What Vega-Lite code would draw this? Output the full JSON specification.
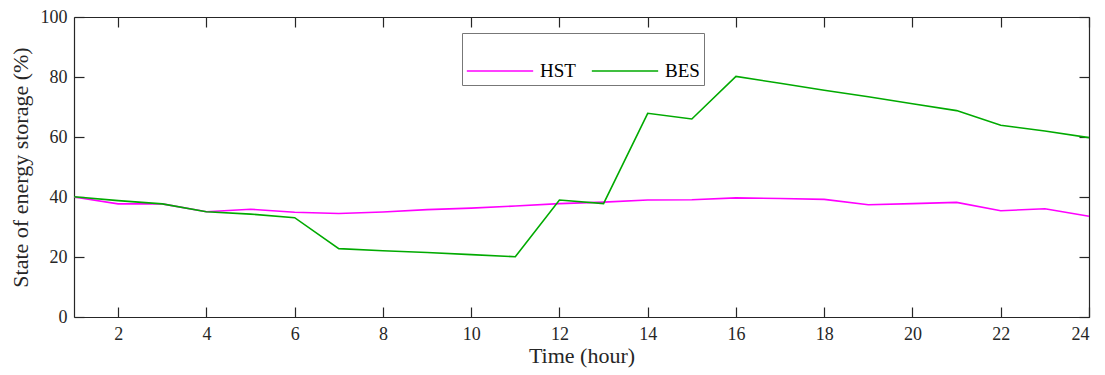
{
  "$schema": "https://vega.github.io/schema/vega-lite/v6.json",
  "autosize": "none",
  "width": 1015,
  "height": 300,
  "padding": {"left": 74, "top": 17, "right": 16, "bottom": 58},
  "background": "white",
  "config": {
    "view": {"stroke": null},
    "font": "Liberation Serif",
    "axis": {
      "grid": false,
      "domainColor": "#262626",
      "domainWidth": 1.2,
      "tickColor": "#262626",
      "tickWidth": 1.2,
      "tickSize": -10,
      "labelFont": "Liberation Serif",
      "labelFontSize": 18,
      "labelColor": "#262626",
      "titleFont": "Liberation Serif",
      "titleFontSize": 22,
      "titleFontWeight": "normal",
      "titleColor": "#262626"
    }
  },
  "data": {
    "values": [
      {"hour": 1, "series": "HST", "soc": 40.0},
      {"hour": 2, "series": "HST", "soc": 37.7},
      {"hour": 3, "series": "HST", "soc": 37.7},
      {"hour": 4, "series": "HST", "soc": 35.1},
      {"hour": 5, "series": "HST", "soc": 35.9},
      {"hour": 6, "series": "HST", "soc": 34.9},
      {"hour": 7, "series": "HST", "soc": 34.5},
      {"hour": 8, "series": "HST", "soc": 35.0},
      {"hour": 9, "series": "HST", "soc": 35.8},
      {"hour": 10, "series": "HST", "soc": 36.3},
      {"hour": 11, "series": "HST", "soc": 37.0},
      {"hour": 12, "series": "HST", "soc": 37.8},
      {"hour": 13, "series": "HST", "soc": 38.3},
      {"hour": 14, "series": "HST", "soc": 39.0},
      {"hour": 15, "series": "HST", "soc": 39.1},
      {"hour": 16, "series": "HST", "soc": 39.7},
      {"hour": 17, "series": "HST", "soc": 39.5},
      {"hour": 18, "series": "HST", "soc": 39.2},
      {"hour": 19, "series": "HST", "soc": 37.4},
      {"hour": 20, "series": "HST", "soc": 37.8},
      {"hour": 21, "series": "HST", "soc": 38.2},
      {"hour": 22, "series": "HST", "soc": 35.4},
      {"hour": 23, "series": "HST", "soc": 36.1},
      {"hour": 24, "series": "HST", "soc": 33.6},
      {"hour": 1, "series": "BES", "soc": 40.1},
      {"hour": 2, "series": "BES", "soc": 38.8},
      {"hour": 3, "series": "BES", "soc": 37.7},
      {"hour": 4, "series": "BES", "soc": 35.1},
      {"hour": 5, "series": "BES", "soc": 34.3},
      {"hour": 6, "series": "BES", "soc": 33.1},
      {"hour": 7, "series": "BES", "soc": 22.8},
      {"hour": 8, "series": "BES", "soc": 22.1},
      {"hour": 9, "series": "BES", "soc": 21.5},
      {"hour": 10, "series": "BES", "soc": 20.8},
      {"hour": 11, "series": "BES", "soc": 20.1},
      {"hour": 12, "series": "BES", "soc": 39.0},
      {"hour": 13, "series": "BES", "soc": 37.8},
      {"hour": 14, "series": "BES", "soc": 67.9},
      {"hour": 15, "series": "BES", "soc": 66.0},
      {"hour": 16, "series": "BES", "soc": 80.2},
      {"hour": 17, "series": "BES", "soc": 77.9},
      {"hour": 18, "series": "BES", "soc": 75.6},
      {"hour": 19, "series": "BES", "soc": 73.4},
      {"hour": 20, "series": "BES", "soc": 71.1},
      {"hour": 21, "series": "BES", "soc": 68.8},
      {"hour": 22, "series": "BES", "soc": 63.9},
      {"hour": 23, "series": "BES", "soc": 62.0},
      {"hour": 24, "series": "BES", "soc": 59.8}
    ]
  },
  "layer": [
    {
      "mark": {"type": "line", "strokeWidth": 1.6},
      "encoding": {
        "x": {
          "field": "hour", "type": "quantitative",
          "scale": {"domain": [1, 24], "nice": false, "zero": false},
          "axis": {"values": [2,4,6,8,10,12,14,16,18,20,22,24], "title": "Time (hour)", "labelPadding": 18, "titlePadding": 2}
        },
        "y": {
          "field": "soc", "type": "quantitative",
          "scale": {"domain": [0, 100], "nice": false},
          "axis": {"values": [0,20,40,60,80,100], "title": "State of energy storage (%)", "labelPadding": 17, "titlePadding": 8}
        },
        "color": {
          "field": "series", "type": "nominal",
          "scale": {"domain": ["HST", "BES"], "range": ["#ff00ff", "#00aa00"]},
          "legend": {
            "title": null,
            "orient": "none",
            "legendX": 388,
            "legendY": 16,
            "direction": "horizontal",
            "symbolType": "stroke",
            "symbolSize": 4400,
            "symbolStrokeWidth": 1.6,
            "labelFont": "Liberation Serif",
            "labelFontSize": 19,
            "labelColor": "#000000",
            "columnPadding": 12,
            "strokeColor": "#777777",
            "fillColor": "white",
            "padding": 4,
            "labelOffset": 6
          }
        }
      }
    },
    {
      "mark": {"type": "line", "strokeOpacity": 0},
      "encoding": {
        "x": {
          "field": "hour", "type": "quantitative",
          "axis": {"orient": "top", "values": [2,4,6,8,10,12,14,16,18,20,22,24], "labels": false, "title": null}
        },
        "y": {
          "field": "soc", "type": "quantitative",
          "axis": {"orient": "right", "values": [0,20,40,60,80,100], "labels": false, "title": null}
        },
        "detail": {"field": "series"}
      }
    }
  ],
  "resolve": {"axis": {"x": "independent", "y": "independent"}}
}
